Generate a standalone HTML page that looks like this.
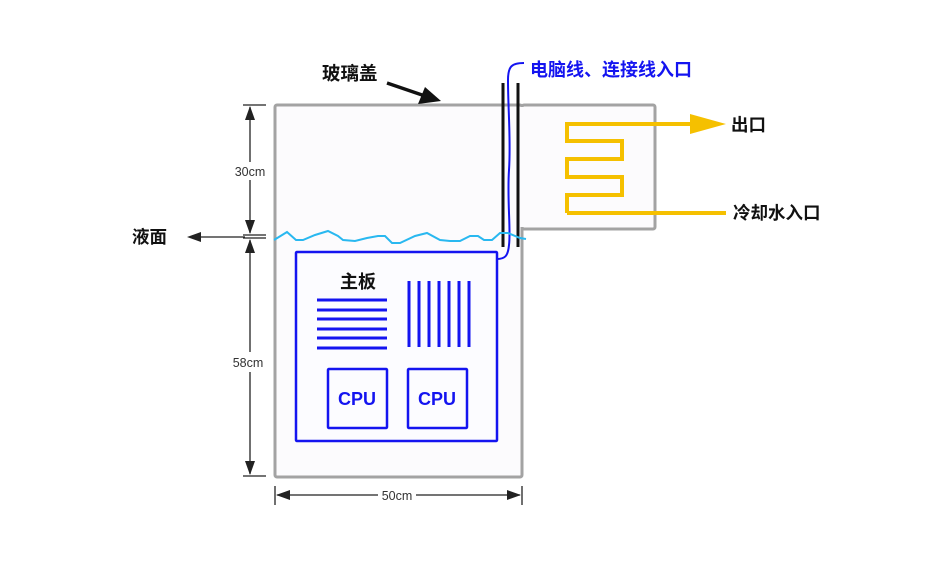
<!DOCTYPE html>
<html><head><meta charset="utf-8"><style>
html,body{margin:0;padding:0;background:#fff;}
svg text{font-family:"Liberation Sans","Noto Sans CJK SC",sans-serif;}
</style></head><body>
<svg width="940" height="565" viewBox="0 0 940 565" xmlns="http://www.w3.org/2000/svg">
<!-- tank -->
<rect x="275" y="105" width="247" height="372" fill="#fcfbfd" stroke="#a3a3a3" stroke-width="3" rx="2"/>
<rect x="522" y="105" width="133" height="124" fill="#fcfbfd" stroke="#a3a3a3" stroke-width="3" rx="2"/>
<rect x="519" y="107" width="6" height="120" fill="#fcfbfd"/>
<!-- coil -->
<polyline points="567,213 726,213" fill="none" stroke="#f5c000" stroke-width="4"/>
<polyline points="696,124 567,124 567,141 622,141 622,159 567,159 567,177 622,177 622,195 567,195 567,213" fill="none" stroke="#f5c000" stroke-width="4"/>
<polygon points="690,114 726,124 690,134" fill="#f5c000"/>
<text x="731" y="131" font-size="17.5" font-weight="bold" fill="#111">出口</text>
<text x="733" y="219" font-size="17.5" font-weight="bold" fill="#111">冷却水入口</text>
<!-- poles -->
<line x1="503" y1="83" x2="503" y2="247" stroke="#111" stroke-width="3"/>
<line x1="518" y1="83" x2="518" y2="247" stroke="#111" stroke-width="3"/>
<!-- cable -->
<path d="M524,63 C512,63 508,66 508,80 C508,110 511,140 509,170 C507,200 511,230 509,245 C508,256 505,259 497,259" fill="none" stroke="#1414f0" stroke-width="2"/>
<text x="530" y="76" font-size="18" font-weight="bold" fill="#1414f0">电脑线、连接线入口</text>
<!-- water -->
<polyline points="274,240 287,232 296,240 303,240 315,235 328,231 338,236 343,240 355,241 367,238 378,236 385,236 392,243 400,243 415,236 427,233 440,240 450,241 460,241 470,236 478,236 484,240 492,240 500,233 508,233 520,238 526,239" fill="none" stroke="#29b8f0" stroke-width="2"/>
<!-- motherboard -->
<rect x="296" y="252" width="201" height="189" fill="#fcfcff" stroke="#1414f0" stroke-width="2.5" rx="1"/>
<text x="340" y="288" font-size="18" font-weight="bold" fill="#111">主板</text>
<g stroke="#1414f0" stroke-width="3">
<line x1="317" y1="300" x2="387" y2="300"/><line x1="317" y1="310" x2="387" y2="310"/><line x1="317" y1="319" x2="387" y2="319"/><line x1="317" y1="329" x2="387" y2="329"/><line x1="317" y1="338" x2="387" y2="338"/><line x1="317" y1="348" x2="387" y2="348"/>
<line x1="409" y1="281" x2="409" y2="347"/><line x1="419" y1="281" x2="419" y2="347"/><line x1="429" y1="281" x2="429" y2="347"/><line x1="439" y1="281" x2="439" y2="347"/><line x1="449" y1="281" x2="449" y2="347"/><line x1="459" y1="281" x2="459" y2="347"/><line x1="469" y1="281" x2="469" y2="347"/>
</g>
<rect x="328" y="369" width="59" height="59" fill="none" stroke="#1414f0" stroke-width="2.5" rx="1"/>
<rect x="408" y="369" width="59" height="59" fill="none" stroke="#1414f0" stroke-width="2.5" rx="1"/>
<text x="357" y="405" font-size="18" font-weight="bold" fill="#1414f0" text-anchor="middle">CPU</text>
<text x="437" y="405" font-size="18" font-weight="bold" fill="#1414f0" text-anchor="middle">CPU</text>
<!-- lid label -->
<text x="322" y="80" font-size="18.5" font-weight="bold" fill="#111">玻璃盖</text>
<line x1="387" y1="83" x2="428" y2="97" stroke="#111" stroke-width="3.5"/>
<polygon points="441,101 418,104 425,87" fill="#111"/>
<!-- dims -->
<g stroke="#222" stroke-width="1.3">
<line x1="243" y1="105" x2="266" y2="105"/>
<line x1="243" y1="235" x2="266" y2="235"/>
<line x1="243" y1="238" x2="266" y2="238"/>
<line x1="243" y1="476" x2="266" y2="476"/>
<line x1="250" y1="107" x2="250" y2="162"/><line x1="250" y1="180" x2="250" y2="233"/>
<line x1="250" y1="240" x2="250" y2="352"/><line x1="250" y1="372" x2="250" y2="474"/>
<line x1="275" y1="486" x2="275" y2="505"/><line x1="522" y1="486" x2="522" y2="505"/>
<line x1="277" y1="495" x2="378" y2="495"/><line x1="416" y1="495" x2="520" y2="495"/>
<line x1="245" y1="237" x2="190" y2="237"/>
</g>
<g fill="#222">
<polygon points="250,106 245,120 255,120"/><polygon points="250,234 245,220 255,220"/>
<polygon points="250,239 245,253 255,253"/><polygon points="250,475 245,461 255,461"/>
<polygon points="276,495 290,490 290,500"/><polygon points="521,495 507,490 507,500"/>
<polygon points="187,237 201,232 201,242"/>
</g>
<text x="250" y="176" font-size="12.5" fill="#333" text-anchor="middle">30cm</text>
<text x="248" y="367" font-size="12.5" fill="#333" text-anchor="middle">58cm</text>
<text x="397" y="500" font-size="12.5" fill="#333" text-anchor="middle">50cm</text>
<text x="132" y="243" font-size="17.5" font-weight="bold" fill="#111">液面</text>
</svg>
</body></html>
